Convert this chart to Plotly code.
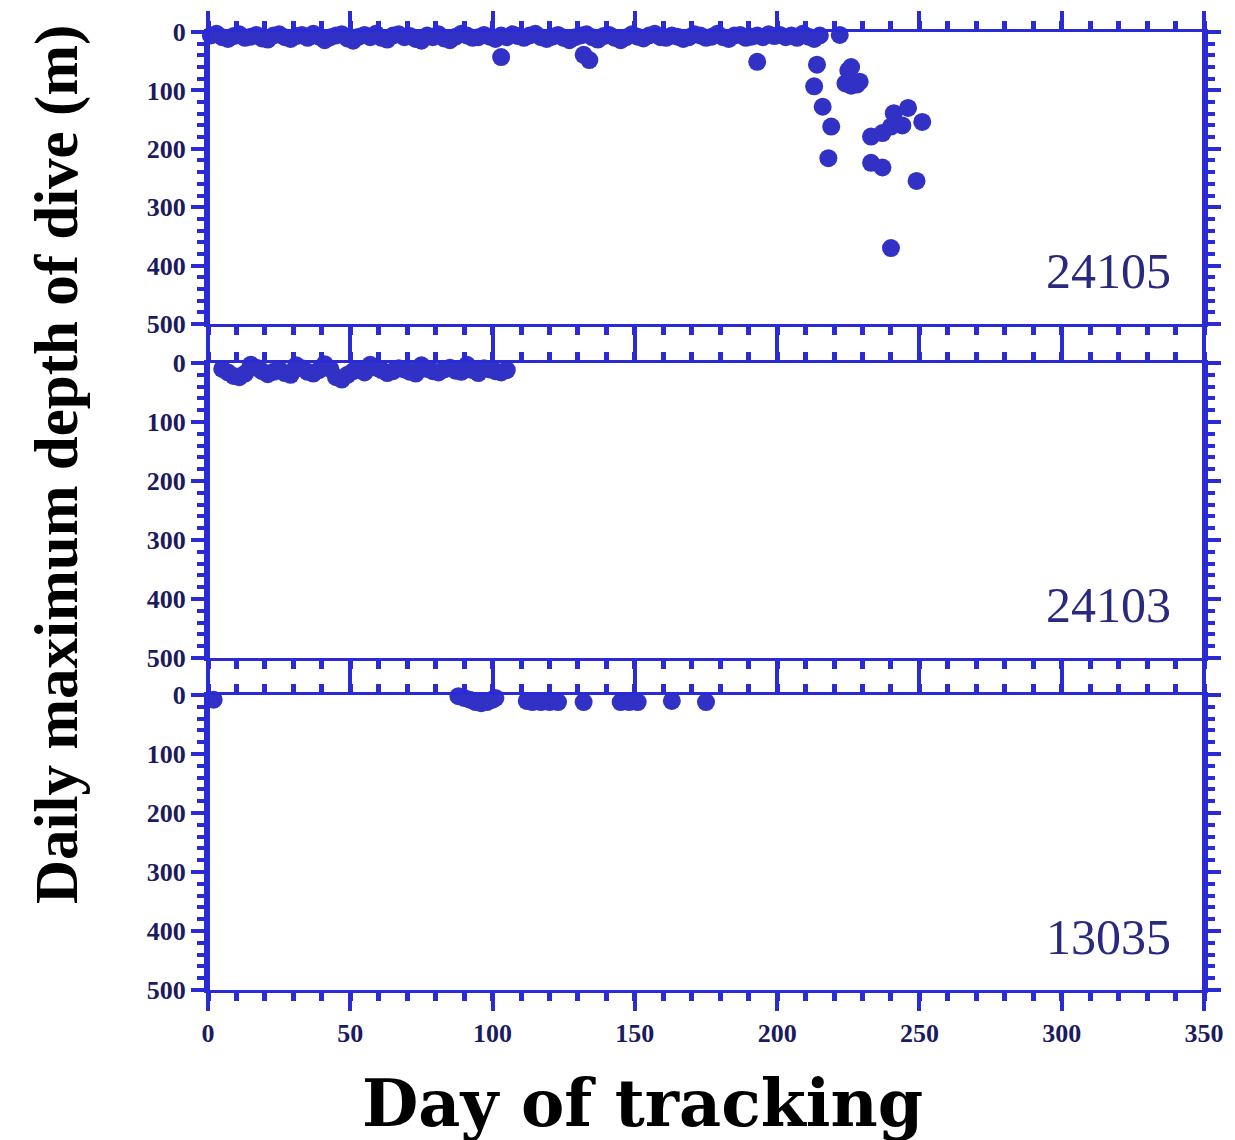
import plotly.graph_objects as go

# ---- colours ----
AXIS = "#2b2bd6"
MARK = "#3131c6"
TICKTXT = "#1b1b5e"
TAGTXT = "#29297f"

# ---- tag 24105 : near-surface days ----
day_24105_surface = [
    1, 3, 5, 7, 9, 11, 13, 15, 17, 19, 21, 23, 25, 27, 29, 31, 33, 35, 37, 39,
    41, 43, 45, 47, 49, 51, 53, 55, 57, 59, 61, 63, 65, 67, 69, 71, 73, 75, 77, 79,
    81, 83, 85, 87, 89, 91, 93, 95, 97, 99, 101, 103, 105, 107, 109, 111, 113, 115, 117, 119,
    121, 123, 125, 127, 129, 131, 133, 135, 137, 139, 141, 143, 145, 147, 149, 151, 153, 155, 157, 159,
    161, 163, 165, 167, 169, 171, 173, 175, 177, 179, 181, 183, 185, 187, 189, 191, 193, 195, 197, 199,
    201, 203, 205, 207, 209, 211, 213, 215,
]
depth_24105_surface = [
    6, 3, 9, 12, 7, 4, 10, 8, 5, 11, 13, 6, 4, 9, 12, 7, 5, 10, 3, 8,
    14, 9, 6, 4, 11, 15, 8, 5, 9, 3, 10, 13, 6, 4, 9, 7, 12, 15, 6, 9,
    4, 11, 14, 8, 3, 6, 10, 9, 5, 8, 12, 6, 9, 4, 7, 10, 6, 3, 9, 12,
    8, 5, 10, 14, 9, 6, 4, 9, 13, 7, 5, 10, 14, 9, 4, 8, 11, 6, 3, 9,
    10, 6, 8, 12, 9, 4, 6, 10, 8, 3, 9, 12, 6, 5, 10, 8, 6, 9, 4, 7,
    5, 9, 6, 10, 3, 8, 12, 6,
]

# ---- tag 24105 : deeper dives ----
day_24105_deep = [
    103, 132, 134, 193, 214, 213, 216, 219, 218, 222, 225, 226, 224, 226, 228, 229,
    233, 237, 240, 241, 244, 246, 251, 233, 237, 249, 240,
]
depth_24105_deep = [
    43, 39, 48, 51, 56, 93, 128, 162, 216, 5, 66, 60, 88, 92, 90, 85,
    179, 173, 162, 139, 160, 130, 154, 224, 232, 255, 370,
]

# ---- tag 24103 ----
day_24103 = [
    5, 7, 9, 11, 13, 15, 17, 19, 21, 23, 25, 27, 29, 31, 33, 35, 37, 39, 41, 43,
    45, 47, 49, 51, 53, 55, 57, 59, 61, 63, 65, 67, 69, 71, 73, 75, 77, 79, 81, 83,
    85, 87, 89, 91, 93, 95, 97, 99, 101, 103, 105,
]
depth_24103 = [
    10, 16, 22, 24, 18, 3, 8, 14, 19, 15, 11, 17, 20, 4, 9, 15, 18, 12, 2, 10,
    24, 28, 20, 14, 10, 16, 3, 8, 12, 17, 14, 9, 11, 15, 18, 4, 10, 14, 16, 11,
    8, 13, 15, 3, 12, 17, 9, 11, 14, 16, 12,
]

# ---- tag 13035 ----
day_13035 = [2, 88, 90, 92, 94, 96, 98, 100, 101, 112, 114, 117, 120, 123, 132, 145, 148, 151, 163, 175]
depth_13035 = [8, 2, 5, 8, 12, 14, 12, 8, 5, 10, 12, 12, 12, 12, 12, 12, 12, 12, 10, 12]

# ---- axes ----
x_range = [0, 350]
depth_range = [500, 0]
x_ticks = [0, 50, 100, 150, 200, 250, 300, 350]
depth_ticks = [0, 100, 200, 300, 400, 500]
tag_labels = ["24105", "24103", "13035"]

H = 1140
W = 1235

# vertical pixel extents (top, bottom) of each panel
panel_px = [(32, 324), (363, 658), (695, 990)]
domains = [[1 - b / H, 1 - t / H] for t, b in panel_px]

fig = go.Figure()

panels = [
    [(day_24105_surface, depth_24105_surface), (day_24105_deep, depth_24105_deep)],
    [(day_24103, depth_24103)],
    [(day_13035, depth_13035)],
]

for i, series in enumerate(panels):
    sfx = "" if i == 0 else str(i + 1)
    for xs, ys in series:
        fig.add_trace(go.Scatter(
            x=xs, y=ys, mode="markers",
            xaxis="x" + sfx, yaxis="y" + sfx,
            marker=dict(symbol="circle", size=18, color=MARK,
                        line=dict(width=0)),
            cliponaxis=False, showlegend=False, hoverinfo="x+y",
        ))

tickfont = dict(family="Liberation Serif", size=26, color=TICKTXT, weight="bold")

layout = dict(
    width=W, height=H,
    margin=dict(l=208, r=31, t=0, b=0, autoexpand=False),
    paper_bgcolor="white", plot_bgcolor="white",
    showlegend=False,
)

for i in range(3):
    sfx = "" if i == 0 else str(i + 1)
    layout["xaxis" + sfx] = dict(
        domain=[0, 1], range=x_range, anchor="y" + sfx,
        showline=True, linecolor=AXIS, linewidth=3, mirror="ticks",
        ticks="outside", ticklen=18, tickwidth=4, tickcolor=AXIS,
        tickvals=x_ticks, ticktext=[str(v) for v in x_ticks],
        minor=dict(dtick=10, tick0=0, ticks="outside", ticklen=8, tickwidth=5,
                   tickcolor=AXIS, showgrid=False),
        showgrid=False, zeroline=False, automargin=False,
        showticklabels=(i == 2), tickfont=tickfont,
    )
    layout["yaxis" + sfx] = dict(
        domain=domains[i], range=depth_range, anchor="x" + sfx,
        showline=True, linecolor=AXIS, linewidth=4, mirror="ticks",
        ticks="outside", ticklen=13, tickwidth=4, tickcolor=AXIS,
        tickvals=depth_ticks, ticktext=[str(v) for v in depth_ticks],
        minor=dict(dtick=20, tick0=0, ticks="outside", ticklen=7, tickwidth=4,
                   tickcolor=AXIS, showgrid=False),
        showgrid=False, zeroline=False, automargin=False, tickfont=tickfont,
    )

annotations = []
for i, lab in enumerate(tag_labels):
    sfx = "" if i == 0 else str(i + 1)
    annotations.append(dict(
        text=lab, x=339, y=410, xref="x" + sfx, yref="y" + sfx,
        xanchor="right", yanchor="middle", showarrow=False,
        font=dict(family="Liberation Serif", size=50, color=TAGTXT),
    ))

annotations.append(dict(
    text="Day of tracking", x=(642 - 208) / 996, y=1 - 1103 / H,
    xref="paper", yref="paper", xanchor="center", yanchor="middle",
    showarrow=False,
    font=dict(family="DejaVu Serif", size=65, color="black", weight="bold"),
))
annotations.append(dict(
    text="Daily maximum depth of dive (m)", x=(57 - 208) / 996, y=1 - 465 / H,
    xref="paper", yref="paper", xanchor="center", yanchor="middle",
    textangle=-90, showarrow=False,
    font=dict(family="Liberation Serif", size=61, color="black", weight="bold"),
))
layout["annotations"] = annotations

# continuous frame lines on the left and right through the gaps between panels
layout["shapes"] = [
    dict(type="line", xref="x", yref="paper", x0=xv, x1=xv,
         y0=1 - 990 / H, y1=1 - 32 / H, line=dict(color=AXIS, width=4))
    for xv in (0, 350)
]

fig.update_layout(**layout)
fig.write_html("out.html")
